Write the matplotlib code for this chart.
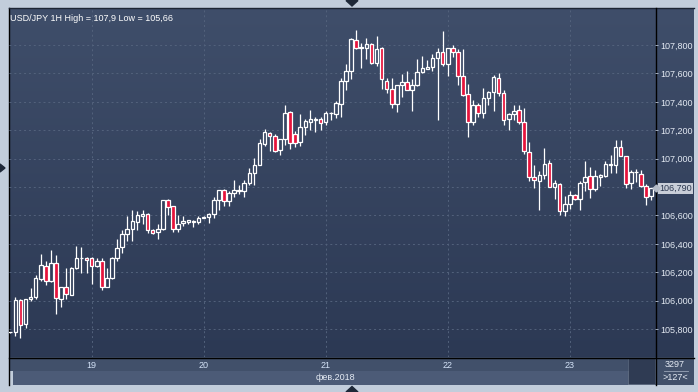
import numpy as np
import matplotlib.pyplot as plt
from matplotlib.patches import Rectangle, Polygon

W, H = 698, 392

# hourly candles (127 visible bars)
opens = [105.776, 105.776, 106.005, 105.835, 106.012, 106.024, 106.153, 106.245, 106.136, 106.266,
         106.012, 106.099, 106.042, 106.231, 106.297, 106.301, 106.301, 106.245, 106.282, 106.099,
         106.160, 106.301, 106.376, 106.470, 106.503, 106.553, 106.595, 106.607, 106.499, 106.482,
         106.503, 106.711, 106.664, 106.503, 106.544, 106.556, 106.558, 106.555, 106.584, 106.588,
         106.607, 106.711, 106.776, 106.704, 106.758, 106.774, 106.774, 106.826, 106.899, 106.953,
         107.104, 107.181, 107.158, 107.061, 107.139, 107.329, 107.174, 107.118, 107.226, 107.259,
         107.273, 107.278, 107.259, 107.318, 107.315, 107.386, 107.546, 107.616, 107.833, 107.780,
         107.776, 107.809, 107.675, 107.776, 107.546, 107.487, 107.386, 107.518, 107.541, 107.485,
         107.518, 107.612, 107.633, 107.645, 107.706, 107.753, 107.668, 107.776, 107.753, 107.581,
         107.452, 107.259, 107.381, 107.322, 107.428, 107.471, 107.569, 107.464, 107.280, 107.315,
         107.341, 107.259, 107.047, 106.871, 106.845, 106.882, 106.969, 106.798, 106.821, 106.628,
         106.680, 106.746, 106.715, 106.835, 106.875, 106.788, 106.868, 106.875, 106.958, 106.958,
         107.080, 107.016, 106.828, 106.904, 106.892, 106.805, 106.734]
highs = [105.780, 106.024, 106.010, 106.012, 106.087, 106.179, 106.329, 106.282, 106.358, 106.318,
         106.099, 106.231, 106.235, 106.388, 106.376, 106.305, 106.305, 106.301, 106.301, 106.231,
         106.305, 106.435, 106.499, 106.593, 106.635, 106.631, 106.640, 106.616, 106.503, 106.541,
         106.711, 106.715, 106.668, 106.600, 106.593, 106.565, 106.570, 106.593, 106.593, 106.616,
         106.730, 106.781, 106.788, 106.774, 106.852, 106.812, 106.852, 106.934, 107.005, 107.141,
         107.212, 107.190, 107.174, 107.139, 107.381, 107.338, 107.197, 107.311, 107.282, 107.346,
         107.292, 107.292, 107.338, 107.329, 107.409, 107.569, 107.664, 107.852, 107.904, 107.816,
         107.852, 107.816, 107.864, 107.786, 107.569, 107.569, 107.522, 107.593, 107.616, 107.560,
         107.699, 107.722, 107.692, 107.739, 107.781, 107.899, 107.781, 107.800, 107.769, 107.769,
         107.527, 107.416, 107.393, 107.499, 107.475, 107.588, 107.605, 107.480, 107.322, 107.381,
         107.376, 107.358, 107.118, 106.958, 106.910, 107.075, 106.993, 106.850, 106.830, 106.734,
         106.769, 106.750, 106.840, 106.986, 106.939, 106.922, 106.892, 106.981, 107.024, 107.134,
         107.134, 107.020, 106.922, 106.929, 106.922, 106.822, 106.793]
lows = [105.772, 105.748, 105.736, 105.807, 106.000, 106.012, 106.141, 106.111, 106.130, 105.906,
        105.953, 106.012, 106.040, 106.220, 106.195, 106.195, 106.118, 106.240, 106.075, 106.095,
        106.155, 106.282, 106.334, 106.419, 106.419, 106.499, 106.541, 106.475, 106.470, 106.435,
        106.500, 106.600, 106.482, 106.482, 106.529, 106.541, 106.520, 106.537, 106.579, 106.548,
        106.584, 106.636, 106.664, 106.664, 106.727, 106.751, 106.727, 106.816, 106.816, 106.953,
        107.087, 107.052, 107.047, 107.028, 107.094, 107.071, 107.080, 107.087, 107.169, 107.205,
        107.188, 107.205, 107.240, 107.275, 107.287, 107.292, 107.480, 107.558, 107.770, 107.640,
        107.699, 107.668, 107.652, 107.487, 107.464, 107.358, 107.329, 107.433, 107.480, 107.334,
        107.510, 107.600, 107.628, 107.616, 107.275, 107.652, 107.581, 107.715, 107.522, 107.440,
        107.151, 107.235, 107.292, 107.287, 107.376, 107.334, 107.440, 107.235, 107.205, 107.270,
        107.245, 107.033, 106.845, 106.793, 106.640, 106.858, 106.800, 106.718, 106.605, 106.593,
        106.647, 106.711, 106.640, 106.769, 106.722, 106.770, 106.805, 106.868, 106.899, 106.899,
        107.016, 106.793, 106.788, 106.835, 106.800, 106.675, 106.711]
closes = [105.778, 106.005, 105.831, 106.012, 106.028, 106.162, 106.252, 106.141, 106.266, 106.019,
          106.099, 106.047, 106.231, 106.301, 106.301, 106.287, 106.245, 106.282, 106.099, 106.160,
          106.301, 106.372, 106.470, 106.503, 106.558, 106.600, 106.607, 106.499, 106.478, 106.506,
          106.706, 106.659, 106.503, 106.541, 106.558, 106.567, 106.551, 106.584, 106.586, 106.607,
          106.711, 106.776, 106.704, 106.758, 106.779, 106.776, 106.826, 106.899, 106.953, 107.111,
          107.188, 107.162, 107.052, 107.139, 107.322, 107.111, 107.111, 107.226, 107.264, 107.278,
          107.278, 107.252, 107.322, 107.322, 107.393, 107.546, 107.616, 107.840, 107.776, 107.786,
          107.805, 107.675, 107.769, 107.558, 107.487, 107.386, 107.518, 107.541, 107.485, 107.518,
          107.612, 107.640, 107.647, 107.706, 107.753, 107.668, 107.776, 107.753, 107.581, 107.445,
          107.259, 107.381, 107.322, 107.428, 107.471, 107.574, 107.464, 107.275, 107.315, 107.334,
          107.256, 107.052, 106.871, 106.849, 106.882, 106.962, 106.800, 106.828, 106.628, 106.680,
          106.746, 106.718, 106.828, 106.873, 106.788, 106.875, 106.882, 106.962, 106.960, 107.080,
          107.021, 106.821, 106.906, 106.906, 106.805, 106.727, 106.793]

# axis texts
title = 'USD/JPY 1H High = 107,9 Low = 105,66'
day_labels = ['19', '20', '21', '22', '23']
day_start = [16, 38, 62, 86, 110]   # bar index where each day begins
month_label = 'фев.2018'
price_ticks = [105.8, 106.0, 106.2, 106.4, 106.6, 106.8, 107.0, 107.2, 107.4, 107.6, 107.8]
last_price = 106.79
bars_total = 3297
bars_visible = 127

FRAME = '#c2cddb'
TOP_BG = np.array([63, 78, 106]) / 255
BOT_BG = np.array([44, 57, 84]) / 255
GRID = '#53627c'
RED = '#e6143c'
TXT = '#e4eaf3'
FONT = 'Liberation Sans'

YMIN, YMAX = 105.603, 108.061
XMIN = -0.25
XMAX = XMIN + 646 / 5.087


def bg_color(v):
    # colour of the gradient at price level v
    t = (YMAX - v) / (YMAX - YMIN)
    return TOP_BG * (1 - t) + BOT_BG * t


def main():
    fig = plt.figure(figsize=(W / 100, H / 100), dpi=100)
    fig.patch.set_facecolor(FRAME)

    # pixel canvas for the chrome around the chart
    base = fig.add_axes([0, 0, 1, 1], zorder=0)
    base.set_xlim(0, W)
    base.set_ylim(H, 0)
    base.axis('off')

    grad = np.linspace(0, 1, 256)[:, None, None]
    grad = TOP_BG * (1 - grad) + BOT_BG * grad
    base.imshow(grad, extent=(9, 694, 357, 8), aspect='auto', interpolation='bilinear')

    # date strips under the chart
    base.add_patch(Rectangle((9, 357), 685, 14, facecolor='#41506a', edgecolor='none'))
    base.add_patch(Rectangle((13, 371), 615, 14, facecolor='#4c5b77', edgecolor='none'))
    base.add_patch(Rectangle((655, 357), 39, 28, facecolor='#41506a', edgecolor='none'))
    base.add_patch(Rectangle((628, 358), 27, 26, facecolor='#2f3b53', edgecolor='#56637a', linewidth=0.6))

    # frame lines
    base.plot([8.5, 8.5], [7.5, 385], color='black', lw=1)
    base.plot([8.5, 694], [7.5, 7.5], color='#1c2433', lw=1)
    base.plot([8.5, 694], [357.5, 357.5], color='black', lw=1)
    base.plot([655.5, 655.5], [7.5, 385], color='black', lw=1)

    # little arrow markers on the frame
    base.add_patch(Polygon([[346, 0.5], [358, 0.5], [352, 6]], closed=True, color='#1e2838'))
    base.add_patch(Polygon([[346, 392], [358, 392], [352, 386.5]], closed=True, color='#1e2838'))
    base.add_patch(Polygon([[0, 164], [0, 172], [5, 168]], closed=True, color='#1e2838'))

    # bar counter, bottom right
    base.text(675, 364.5, str(bars_total), color=TXT, fontsize=6.5, family=FONT,
              ha='center', va='center')
    base.plot([664, 688], [371, 371], color='#9aa6b8', lw=0.6)
    base.text(675, 378, f'>{bars_visible}<', color=TXT, fontsize=6.5, family=FONT,
              ha='center', va='center')
    base.text(335, 377, month_label, color=TXT, fontsize=6.5, family=FONT,
              ha='center', va='center')

    # the candle chart
    ax = fig.add_axes([9 / W, 1 - 357 / H, 646 / W, 349 / H], zorder=1)
    ax.set_facecolor('none')
    ax.set_xlim(XMIN, XMAX)
    ax.set_ylim(YMIN, YMAX)
    for s in ax.spines.values():
        s.set_visible(False)

    for p in price_ticks:
        ax.axhline(p, color=GRID, lw=0.7, dashes=(2, 3), zorder=0)
    for d in day_start:
        ax.axvline(d, color=GRID, lw=0.7, dashes=(2, 3), zorder=0)

    o = np.array(opens)
    h = np.array(highs)
    l = np.array(lows)
    c = np.array(closes)
    x = np.arange(len(o))
    up = c >= o
    lo = np.minimum(o, c)
    body = np.abs(c - o)
    faces = [bg_color(b + hh / 2) if u else RED for b, hh, u in zip(lo, body, up)]

    ax.vlines(x, l, h, color='white', lw=0.9, zorder=2)
    ax.bar(x, body, bottom=lo, width=0.7, color=faces, edgecolor='white', linewidth=0.9, zorder=3)

    ax.text(1.5 / 646, 1 - 6 / 349, title, transform=ax.transAxes, color='white',
            fontsize=6.5, family=FONT, ha='left', va='top')

    # axes ticks
    ax.yaxis.tick_right()
    ax.set_yticks(price_ticks)
    ax.set_yticklabels([f'{p:.3f}'.replace('.', ',') for p in price_ticks])
    ax.tick_params(axis='y', direction='out', length=2, width=0.6, color='#b8c3d4', pad=1.5,
                   labelsize=6.5, labelcolor=TXT)
    ax.set_xticks(day_start)
    ax.set_xticklabels(day_labels)
    ax.tick_params(axis='x', length=0, pad=3, labelsize=6.5, labelcolor='#d3e2f7')
    for lab in ax.get_xticklabels() + ax.get_yticklabels():
        lab.set_family(FONT)

    # last price box with its marker on the axis
    ax.plot([1.002], [last_price], marker='D', markersize=3.5, color='#b5bcc8',
            transform=ax.get_yaxis_transform(), clip_on=False, zorder=5)
    ax.annotate(f'{last_price:.3f}'.replace('.', ','), xy=(1, last_price), xycoords=('axes fraction', 'data'),
                xytext=(3, 0), textcoords='offset points', ha='left', va='center',
                fontsize=6.5, family=FONT, color='#2c3850',
                bbox=dict(boxstyle='square,pad=0.15', facecolor='#c9ced8', edgecolor='none'))

    plt.savefig('out.png', dpi=100, facecolor=fig.get_facecolor())


main()
